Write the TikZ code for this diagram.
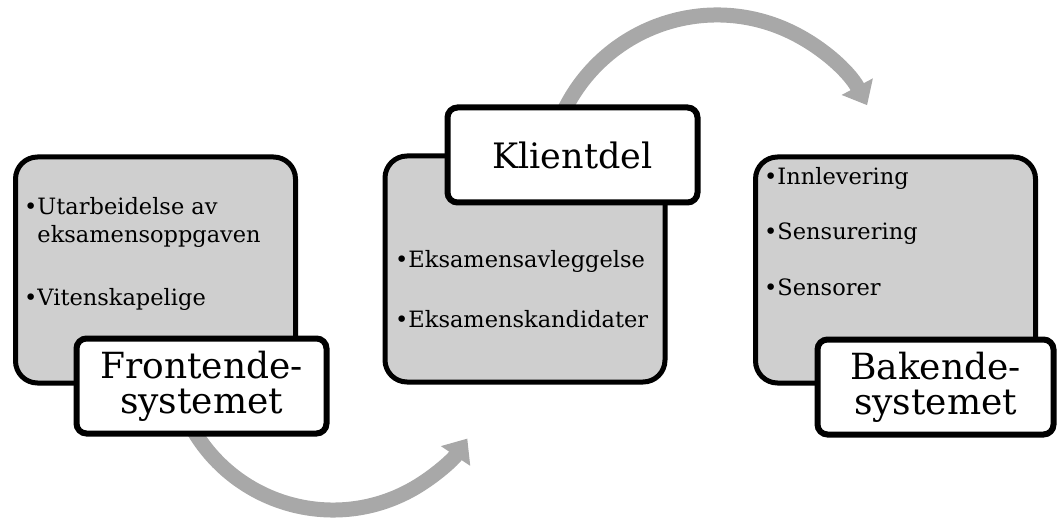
\documentclass[tikz,border=0pt]{standalone}
\usepackage{fontspec}
\setmainfont{DejaVu Serif}
\usetikzlibrary{arrows.meta,shadows,calc}
\definecolor{boksgraa}{RGB}{207,207,207}
\definecolor{pilgraa}{RGB}{168,168,168}

\begin{document}
\begin{tikzpicture}[x=1pt,y=1pt,
    boks/.style={draw=black,line width=5pt,fill=boksgraa,rounded corners=22pt,
        minimum width=280pt,minimum height=226pt,inner sep=0pt,
        drop shadow={shadow xshift=2pt,shadow yshift=-2pt,opacity=.3}},
    tittel/.style={draw=black,line width=6pt,fill=white,rounded corners=10pt,
        minimum width=250pt,minimum height=95pt,inner sep=0pt,align=center,
        drop shadow={shadow xshift=2pt,shadow yshift=-2pt,opacity=.3}},
    punkt/.style={anchor=base west,inner sep=0pt,align=left,
        font=\fontsize{22.5}{28}\selectfont},
    pil/.style={draw=pilgraa,line width=15pt,-{Triangle[length=21pt,width=34pt]}}]
    \useasboundingbox (0,0) rectangle (1059,520);
    % pilene
    \coordinate (pil1) at ($(333,172)+(210:162)$);
    \coordinate (pil2) at ($(717,335)+(156:170)$);
    \draw[pil] (pil1) arc[start angle=210,end angle=326,radius=162];
    \draw[pil] (pil2) arc[start angle=156,end angle=28,radius=170];
    % boksene
    \node[boks] (front) at (155.5,250) {};
    \node[boks] (klient) at (525,251) {};
    \node[boks] (bak) at (895.5,250) {};
    % punktene
    \node[punkt] (front-1) at (24,277) {•Utarbeidelse av\\\hphantom{•}eksamensoppgaven};
    \node[punkt] (front-2) at (24,215) {•Vitenskapelige};
    \foreach \tekst [count=\i] in {Eksamensavleggelse,Eksamenskandidater}
        \node[punkt] (klient-\i) at (395,313-60*\i) {•\tekst};
    \foreach \tekst [count=\i] in {Innlevering,Sensurering,Sensorer}
        \node[punkt] (bak-\i) at (764,390-55*\i) {•\tekst};
    % titlene
    \node[tittel,font=\fontsize{36}{35}\selectfont] (front-tittel) at (201.5,134) {Frontende-\\systemet};
    \node[tittel,font=\fontsize{35}{40}\selectfont] (klient-tittel) at (572.5,365) {Klientdel};
    \node[tittel,minimum width=236pt,font=\fontsize{36}{35}\selectfont] (bak-tittel) at (935.5,133) {Bakende-\\systemet};
\end{tikzpicture}
\end{document}
